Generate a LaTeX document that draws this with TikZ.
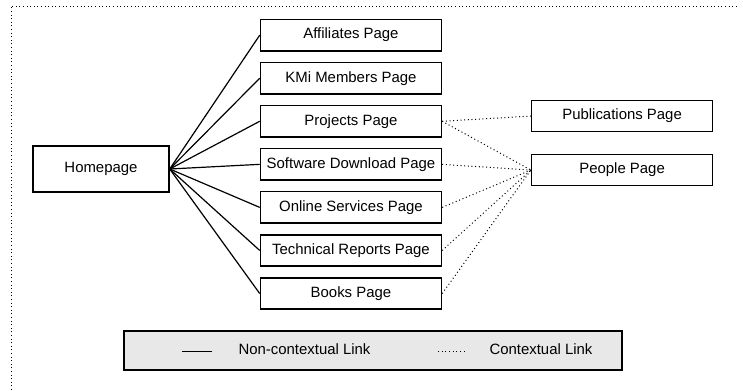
\documentclass[tikz,border=0pt]{standalone}
\usepackage{fontspec}
\setmainfont{Liberation Sans}
\usetikzlibrary{positioning}
\definecolor{legendgray}{RGB}{232,232,232}

\begin{document}
\begin{tikzpicture}[
  x=0.75pt,y=-0.75pt,
  node distance=7.7pt and 68pt,
  pagebox/.style={draw,line width=1.1pt,minimum width=135.75pt,minimum height=23.5pt,inner sep=0pt},
  homebox/.style={draw,line width=1.1pt,minimum width=102pt,minimum height=34.5pt,inner sep=0pt},
  solidlink/.style={line width=0.9pt},
  ctxlink/.style={dotted,line width=0.75pt},
  font=\fontsize{11.2}{13}\selectfont
]
\useasboundingbox (0,0) rectangle (743,390);
\draw[dotted,line width=0.7pt] (11,390) -- (11,6) -- (738,6);
\node[homebox] (home) at (101,169) {Homepage};
\node[pagebox,above right=70.3pt and 67.5pt of home] (aff) {Affiliates Page};
\node[pagebox,below=of aff] (kmi) {KMi Members Page};
\node[pagebox,below=of kmi] (proj) {Projects Page};
\node[pagebox,below=of proj] (soft) {Software Download Page};
\node[pagebox,below=of soft] (online) {Online Services Page};
\node[pagebox,below=of online] (tech) {Technical Reports Page};
\node[pagebox,below=of tech] (books) {Books Page};
\node[pagebox,right=66.5pt of proj,yshift=3.9pt] (pub) {Publications Page};
\node[pagebox,right=66.5pt of soft,yshift=-4.3pt] (people) {People Page};
\path (home.east) edge[solidlink] (aff.west)
(home.east) edge[solidlink] (kmi.west)
(home.east) edge[solidlink] (proj.west)
(home.east) edge[solidlink] (soft.west)
(home.east) edge[solidlink] (online.west)
(home.east) edge[solidlink] (tech.west)
(home.east) edge[solidlink] (books.west);
\path (proj.east) edge[ctxlink] (pub.west)
(proj.east) edge[ctxlink] (people.west)
(soft.east) edge[ctxlink] (people.west)
(online.east) edge[ctxlink] (people.west)
(tech.east) edge[ctxlink] (people.west)
(books.east) edge[ctxlink] (people.west);
% legend
\node[draw,line width=1.1pt,fill=legendgray,minimum width=373.5pt,minimum height=29.25pt] (legend) at (373,350.5) {};
\node (ncl) at (304.5,349) {Non-contextual Link};
\node (cl) at (541,349) {Contextual Link};
\coordinate[left=16pt of ncl.west,yshift=-2pt] (ncla);
\coordinate[left=15pt of cl.west,yshift=-2pt] (cla);
\draw[solidlink,line width=1.1pt] (ncla) -- ++(-30,0);
\draw[ctxlink] (cla) -- ++(-28,0);
\end{tikzpicture}
\end{document}
